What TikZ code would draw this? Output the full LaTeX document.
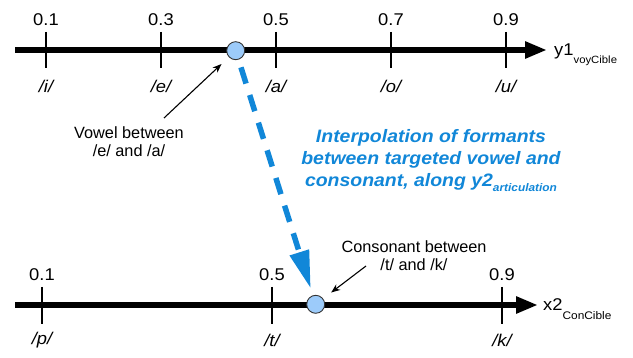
\documentclass[tikz,border=0pt]{standalone}
\usepackage{fontspec}
\setmainfont{Liberation Sans}
\newfontfamily\bluefont[FakeStretch=1.08]{Liberation Sans}
\newfontfamily\widefont[FakeStretch=1.08]{Liberation Sans}
\usetikzlibrary{arrows.meta,calc}
\definecolor{interpblue}{HTML}{1187D8}
\definecolor{dotfill}{HTML}{9CCBFA}
\begin{document}
\begin{tikzpicture}[x=1pt,y=-1pt,
  axisline/.style={line width=6.5pt,-{Triangle[length=22pt,width=16pt]}},
  tickmark/.style={line width=1.6pt},
  numlbl/.style={font=\widefont\fontsize{17}{17}\selectfont, inner sep=0pt},
  phonlbl/.style={font=\widefont\fontsize{17}{17}\selectfont\itshape, inner sep=0pt},
  dot/.style={circle, draw=black!80, line width=0.9pt, fill=dotfill, minimum size=18pt, inner sep=0pt},
  note/.style={font=\fontsize{16.3}{17.7}\selectfont, align=center, inner sep=0pt},
  axislbl/.style={font=\widefont\fontsize{17}{17}\selectfont, inner sep=0pt, anchor=base west},
  pointer/.style={line width=1.1pt, -{Stealth[length=9pt,width=7pt]}, shorten >=10pt},
  interp/.style={interpblue, line width=5.5pt, dash pattern=on 17pt off 12pt,
     -{Triangle[length=38pt,width=19pt]}, shorten <=8pt, shorten >=7pt},
  interptext/.style={text=interpblue, font=\bluefont\fontsize{18}{22.4}\selectfont\bfseries\itshape, align=center, inner sep=0pt}
]
\useasboundingbox (0,0) rectangle (633,358);

% ---------- top axis ----------
\coordinate (tA) at (15,50);
\coordinate (tB) at (547,50);
\draw[axisline] (tA) -- (tB);
\foreach \x/\n/\p [count=\i] in {46/0.1/i, 161/0.3/e, 276/0.5/a, 391/0.7/o, 506/0.9/u}{
  \draw[tickmark] (\x,32) -- (\x,68);
  \node[numlbl] (tn\i) at (\x,19.5) {\n};
  \node[phonlbl] (tp\i) at (\x,86) {/\p/};
}
\node[axislbl] (ylab) at (554,56) {y1\raisebox{-7.3pt}{\fontsize{10.5}{10.5}\selectfont voyCible}};

% ---------- bottom axis ----------
\coordinate (bA) at (15,305);
\coordinate (bB) at (538,305);
\draw[axisline] (bA) -- (bB);
\foreach \x/\n/\p [count=\i] in {42/0.1/p, 272/0.5/t, 502/0.9/k}{
  \draw[tickmark] (\x,287) -- (\x,324);
  \node[numlbl] (bn\i) at (\x,275) {\n};
  \node[phonlbl] (bp\i) at (\x,340) {/\p/};
}
\node[axislbl] (xlab) at (543,310.7) {x2\raisebox{-8.6pt}{\fontsize{11}{11}\selectfont ConCible}};

% ---------- points ----------
\node[dot] (dotA) at (235.7,50.7) {};
\node[dot] (dotB) at (315.7,304.3) {};

% ---------- interpolation arrow ----------
\draw[interp] (dotA) -- (dotB);
\node[interptext] (itext) at (431,160.5) {Interpolation of formants\\between targeted vowel and\\consonant, along y2\raisebox{-5pt}{\fontsize{11}{11}\selectfont articulation}};

% ---------- annotations ----------
\node[note] (vnote) at (129,142) {Vowel between\\/e/ and /a/};
\coordinate (vtail) at (164,118);
\draw[pointer] (vtail) -- (dotA);

\node[note] (cnote) at (414,256) {Consonant between\\/t/ and /k/};
\coordinate (ctail) at (366,266);
\draw[pointer] (ctail) -- (dotB);
\end{tikzpicture}
\end{document}
